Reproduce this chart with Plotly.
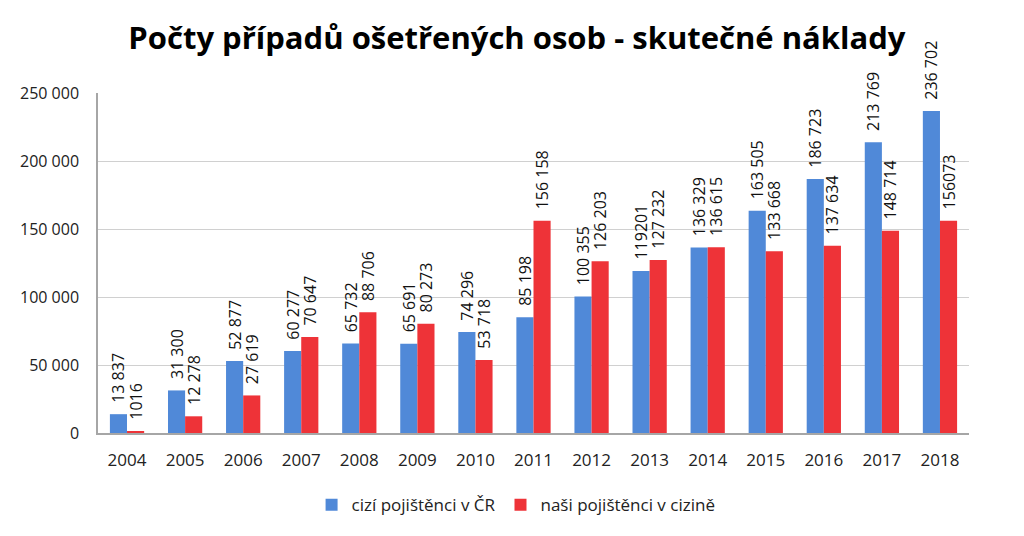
import plotly.graph_objects as go

years = ["2004", "2005", "2006", "2007", "2008", "2009", "2010", "2011",
         "2012", "2013", "2014", "2015", "2016", "2017", "2018"]
foreign_in_cr = [13837, 31300, 52877, 60277, 65732, 65691, 74296, 85198,
                 100355, 119201, 136329, 163505, 186723, 213769, 236702]
ours_abroad = [1016, 12278, 27619, 70647, 88706, 80273, 53718, 156158,
               126203, 127232, 136615, 133668, 137634, 148714, 156073]
foreign_labels = ["13 837", "31 300", "52 877", "60 277", "65 732", "65 691", "74 296", "85 198",
                  "100 355", "119201", "136 329", "163 505", "186 723", "213 769", "236 702"]
ours_labels = ["1016", "12 278", "27 619", "70 647", "88 706", "80 273", "53 718", "156 158",
               "126 203", "127 232", "136 615", "133 668", "137 634", "148 714", "156073"]
y_ticks = [0, 50000, 100000, 150000, 200000, 250000]
y_tick_text = ["0", "50 000", "100 000", "150 000", "200 000", "250 000"]

FONT = "Open Sans"
PAD = "\u00a0\u00a0"

fig = go.Figure()
fig.add_trace(go.Bar(
    x=years, y=foreign_in_cr, name="cizí pojištěnci v ČR",
    marker=dict(color="#5089D8", line=dict(width=0)),
    text=[PAD + t for t in foreign_labels], textposition="outside", textangle=-90,
    textfont=dict(family=FONT, size=16, color="#111111"),
    constraintext="none", cliponaxis=False,
))
fig.add_trace(go.Bar(
    x=years, y=ours_abroad, name="naši pojištěnci v cizině",
    marker=dict(color="#EE3338", line=dict(width=0)),
    text=[PAD + t for t in ours_labels], textposition="outside", textangle=-90,
    textfont=dict(family=FONT, size=16, color="#111111"),
    constraintext="none", cliponaxis=False,
))

fig.update_layout(
    width=1024, height=536,
    margin=dict(l=87, r=63, t=85, b=111),
    paper_bgcolor="white", plot_bgcolor="white",
    barmode="group", bargap=0.41, bargroupgap=0,
    title=dict(text="<b>Počty případů ošetřených osob - skutečné náklady</b>",
               x=0.497, xanchor="center", y=0.944, yanchor="middle",
               font=dict(family=FONT, size=31, color="#000000")),
    font=dict(family=FONT, size=16, color="#222222"),
    legend=dict(orientation="h", x=0.48, xanchor="center", y=-0.212, yanchor="middle",
                font=dict(family=FONT, size=17, color="#222222"),
                itemwidth=30, traceorder="normal"),
    showlegend=True,
)
fig.update_xaxes(
    showline=True, linecolor="#A6A6A6", linewidth=1.5,
    ticks="", tickfont=dict(family=FONT, size=17, color="#222222"),
    ticklabelstandoff=11,
)
fig.update_yaxes(
    range=[0, 250000], tickvals=y_ticks, ticktext=y_tick_text,
    showgrid=True, gridcolor="#D0D0D0", gridwidth=1,
    showline=True, linecolor="#A6A6A6", linewidth=1.5,
    zeroline=False, ticks="",
    tickfont=dict(family=FONT, size=16, color="#222222"),
    ticklabelstandoff=14,
)

fig.write_html("out.html")
